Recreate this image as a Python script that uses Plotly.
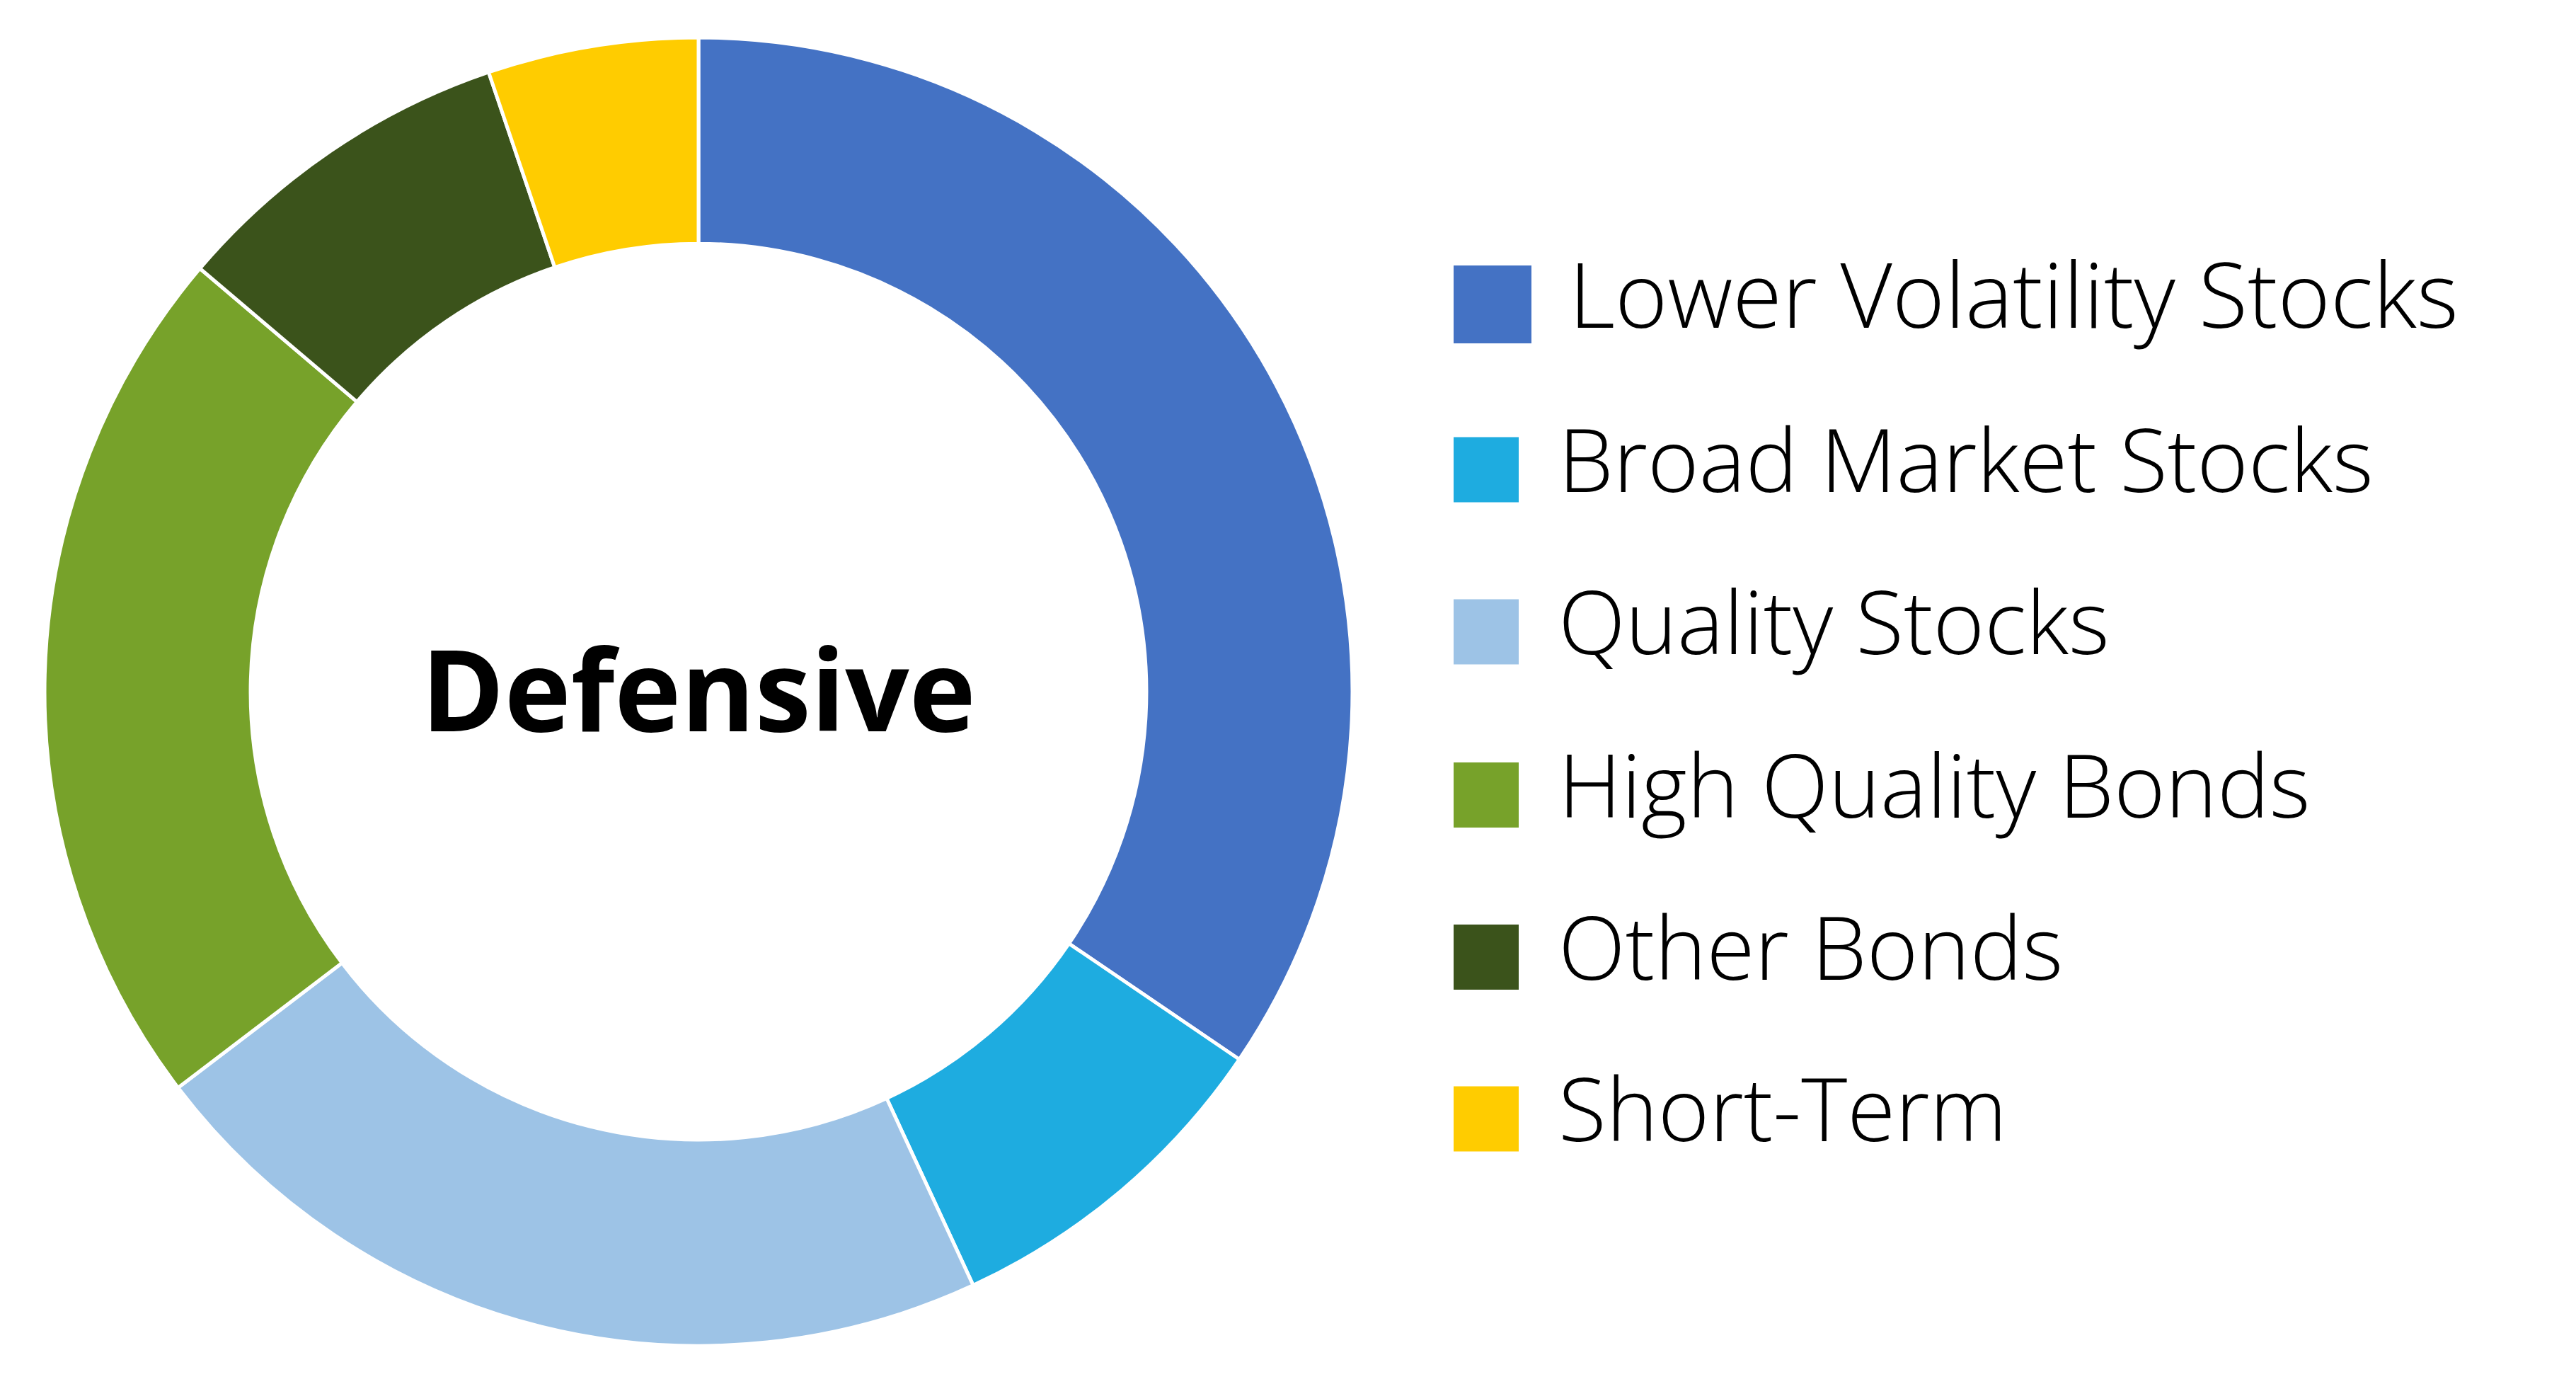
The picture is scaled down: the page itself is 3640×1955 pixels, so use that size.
import plotly.graph_objects as go

# ---- data ----
labels = ["Lower Volatility Stocks", "Broad Market Stocks", "Quality Stocks",
          "High Quality Bonds", "Other Bonds", "Short-Term"]
weights = [34.5, 8.6, 21.55, 21.55, 8.6, 5.2]
colors = ["#4472C4", "#1EACE0", "#9DC3E6", "#77A22A", "#3B531B", "#FFCC00"]
center_label = "Defensive"

W, H = 3640, 1955
OFF = 8  # page body margin


def px_x(v):
    return (v - OFF) / W


def px_y(v):
    return 1 - (v - OFF) / H


fig = go.Figure()
fig.add_trace(go.Pie(
    labels=labels,
    values=weights,
    hole=0.685,
    sort=False,
    direction="clockwise",
    rotation=0,
    textinfo="none",
    hoverinfo="label+percent",
    marker=dict(colors=colors, line=dict(color="white", width=5)),
    domain=dict(x=[px_x(63), px_x(1911)], y=[px_y(1901.5), px_y(52.7)]),
    showlegend=False,
))

# ---- manual legend (large swatches) ----
sw_x0 = 2054
sw_sizes = [110, 92, 92, 92, 92, 92]
sw_centers = [430, 663.5, 892.5, 1123, 1352, 1580.5]
txt_x = [2215, 2200, 2200, 2200, 2200, 2200]
txt_sizes = [127, 124, 124, 124, 124, 124]
shapes = []
annotations = []
for i, lab in enumerate(labels):
    s = sw_sizes[i]
    c = sw_centers[i]
    shapes.append(dict(
        type="rect", xref="paper", yref="paper",
        x0=px_x(sw_x0), x1=px_x(sw_x0 + s),
        y0=px_y(c + s / 2), y1=px_y(c - s / 2),
        fillcolor=colors[i], line=dict(width=0), layer="above",
    ))
    annotations.append(dict(
        text=lab, xref="paper", yref="paper",
        x=px_x(txt_x[i]), y=px_y(c - 17),
        xanchor="left", yanchor="middle", showarrow=False,
        font=dict(family="Open Sans", size=txt_sizes[i], color="#000000", weight=300),
    ))

annotations.append(dict(
    text="<b>%s</b>" % center_label, xref="paper", yref="paper",
    x=px_x(987), y=px_y(971), xanchor="center", yanchor="middle",
    showarrow=False,
    font=dict(family="Open Sans", size=159, color="#000000"),
))

fig.update_layout(
    width=W, height=H,
    margin=dict(l=0, r=0, t=0, b=0),
    paper_bgcolor="white", plot_bgcolor="white",
    shapes=shapes, annotations=annotations,
    showlegend=False,
)

fig.write_html("out.html")
